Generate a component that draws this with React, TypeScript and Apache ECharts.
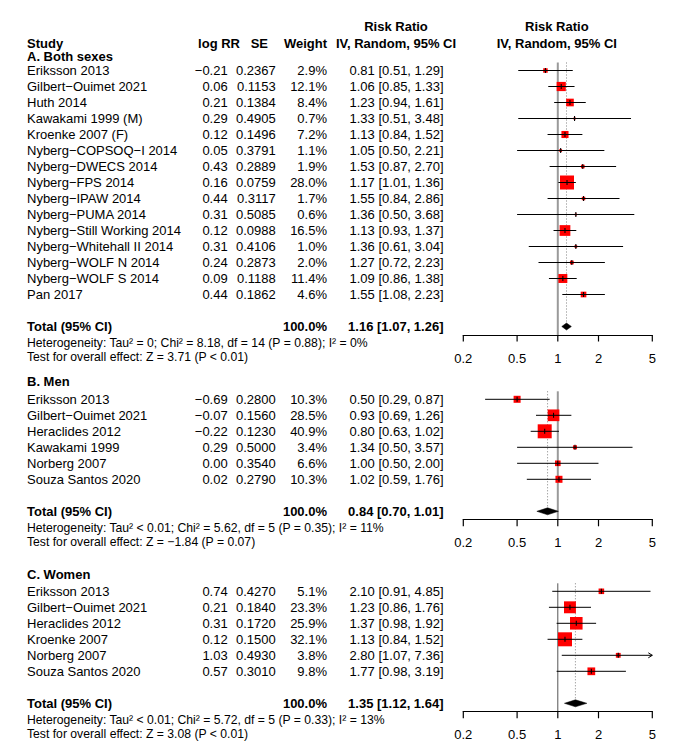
import React, { useEffect, useRef } from "react";
import * as echarts from "echarts";

const FONT = "'Liberation Sans', Arial, Helvetica, sans-serif";

// ---------- A. Both sexes ----------
const studiesA = [
  "Eriksson 2013", "Gilbert−Ouimet 2021", "Huth 2014", "Kawakami 1999 (M)", "Kroenke 2007 (F)",
  "Nyberg−COPSOQ−I 2014", "Nyberg−DWECS 2014", "Nyberg−FPS 2014", "Nyberg−IPAW 2014", "Nyberg−PUMA 2014",
  "Nyberg−Still Working 2014", "Nyberg−Whitehall II 2014", "Nyberg−WOLF N 2014", "Nyberg−WOLF S 2014", "Pan 2017",
];
const logRRA = [-0.21, 0.06, 0.21, 0.29, 0.12, 0.05, 0.43, 0.16, 0.44, 0.31, 0.12, 0.31, 0.24, 0.09, 0.44];
const seA = [0.2367, 0.1153, 0.1384, 0.4905, 0.1496, 0.3791, 0.2889, 0.0759, 0.3117, 0.5085, 0.0988, 0.4106, 0.2873, 0.1188, 0.1862];
const weightA = [2.9, 12.1, 8.4, 0.7, 7.2, 1.1, 1.9, 28.0, 1.7, 0.6, 16.5, 1.0, 2.0, 11.4, 4.6];
const rrA = [0.81, 1.06, 1.23, 1.33, 1.13, 1.05, 1.53, 1.17, 1.55, 1.36, 1.13, 1.36, 1.27, 1.09, 1.55];
const lowA = [0.51, 0.85, 0.94, 0.51, 0.84, 0.5, 0.87, 1.01, 0.84, 0.5, 0.93, 0.61, 0.72, 0.86, 1.08];
const upA = [1.29, 1.33, 1.61, 3.48, 1.52, 2.21, 2.7, 1.36, 2.86, 3.68, 1.37, 3.04, 2.23, 1.38, 2.23];
const totalA = [1.16, 1.07, 1.26];
const hetA = "Heterogeneity: Tau² = 0; Chi² = 8.18, df = 14 (P = 0.88); I² = 0%";
const testA = "Test for overall effect: Z = 3.71 (P < 0.01)";

// ---------- B. Men ----------
const studiesB = ["Eriksson 2013", "Gilbert−Ouimet 2021", "Heraclides 2012", "Kawakami 1999", "Norberg 2007", "Souza Santos 2020"];
const logRRB = [-0.69, -0.07, -0.22, 0.29, 0.0, 0.02];
const seB = [0.28, 0.156, 0.123, 0.5, 0.354, 0.279];
const weightB = [10.3, 28.5, 40.9, 3.4, 6.6, 10.3];
const rrB = [0.5, 0.93, 0.8, 1.34, 1.0, 1.02];
const lowB = [0.29, 0.69, 0.63, 0.5, 0.5, 0.59];
const upB = [0.87, 1.26, 1.02, 3.57, 2.0, 1.76];
const totalB = [0.84, 0.7, 1.01];
const hetB = "Heterogeneity: Tau² < 0.01; Chi² = 5.62, df = 5 (P = 0.35); I² = 11%";
const testB = "Test for overall effect: Z = −1.84 (P = 0.07)";

// ---------- C. Women ----------
const studiesC = ["Eriksson 2013", "Gilbert−Ouimet 2021", "Heraclides 2012", "Kroenke 2007", "Norberg 2007", "Souza Santos 2020"];
const logRRC = [0.74, 0.21, 0.31, 0.12, 1.03, 0.57];
const seC = [0.427, 0.184, 0.172, 0.15, 0.493, 0.301];
const weightC = [5.1, 23.3, 25.9, 32.1, 3.8, 9.8];
const rrC = [2.1, 1.23, 1.37, 1.13, 2.8, 1.77];
const lowC = [0.91, 0.86, 0.98, 0.84, 1.07, 0.98];
const upC = [4.85, 1.76, 1.92, 1.52, 7.36, 3.19];
const totalC = [1.35, 1.12, 1.64];
const hetC = "Heterogeneity: Tau² < 0.01; Chi² = 5.72, df = 5 (P = 0.33); I² = 13%";
const testC = "Test for overall effect: Z = 3.08 (P < 0.01)";

// ---------- axis ----------
const tickLabels = [0.2, 0.5, 1, 2, 5];
const X_MIN = 0.2;
const X_MAX = 5;

const headers = {
  study: "Study",
  logRR: "log RR",
  se: "SE",
  weight: "Weight",
  rr1: "Risk Ratio",
  rr2: "IV, Random, 95% CI",
  total: "Total (95% CI)",
  totalWeight: "100.0%",
};

const L = Math.log10;
const fmt = (v: number, d: number) => v.toFixed(d).replace("-", "−");

const panels = [
  { title: "A. Both sexes", studies: studiesA, logRR: logRRA, se: seA, weight: weightA, rr: rrA, low: lowA, up: upA, total: totalA, het: hetA, test: testA, gridTop: 62.5, titleY: 56.6, refColor: "#9a9a9a", refWidth: 2 },
  { title: "B. Men", studies: studiesB, logRR: logRRB, se: seB, weight: weightB, rr: rrB, low: lowB, up: upB, total: totalB, het: hetB, test: testB, gridTop: 391.3, titleY: 381.7, refColor: "#9a9a9a", refWidth: 2 },
  { title: "C. Women", studies: studiesC, logRR: logRRC, se: seC, weight: weightC, rr: rrC, low: lowC, up: upC, total: totalC, het: hetC, test: testC, gridTop: 583.3, titleY: 574, refColor: "#555555", refWidth: 1 },
];

const ROW = 16;
const TICK = 7;
const GRID_LEFT = 463.3;
const GRID_W = 189;
const COL = { name: 27, logRR: 227.7, se: 275.7, weight: 327, rr: 443.5 };

function txt(text: string, x: number, y: number, align: string, size = 13, bold = false) {
  return {
    type: "text",
    x,
    y,
    silent: true,
    style: { text, x: 0, y: 0, align, verticalAlign: "middle", lineHeight: size, fill: "#000", fontSize: size, fontFamily: FONT, fontWeight: bold ? "bold" : "normal" },
  };
}

function buildOption() {
  const grid: any[] = [];
  const xAxis: any[] = [];
  const yAxis: any[] = [];
  const series: any[] = [];
  const graphic: any[] = [];

  graphic.push(txt(headers.study, COL.name, 43, "left", 13, true));
  graphic.push(txt(headers.logRR, 240, 43, "right", 13, true));
  graphic.push(txt(headers.se, 268, 43, "right", 13, true));
  graphic.push(txt(headers.weight, COL.weight, 43, "right", 13, true));
  graphic.push(txt(headers.rr1, 396, 26.7, "center", 13, true));
  graphic.push(txt(headers.rr2, 396, 43, "center", 13, true));
  graphic.push(txt(headers.rr1, GRID_LEFT + GRID_W / 2 - 1, 26.7, "center", 13, true));
  graphic.push(txt(headers.rr2, GRID_LEFT + GRID_W / 2 - 1, 43, "center", 13, true));

  panels.forEach((p, gi) => {
    const n = p.studies.length;
    const totalRow = n + 1;
    const yAxisRow = n + 1.5; // row position of the drawn axis line
    const yEnd = yAxisRow + TICK / ROW; // grid bottom = tick ends
    const axisY = p.gridTop + (n + 2) * ROW;
    const height = (n + 2) * ROW + TICK;
    grid.push({ left: GRID_LEFT, top: p.gridTop, width: GRID_W, height });
    const ticks = tickLabels.map((t) => L(t));
    xAxis.push({
      gridIndex: gi,
      type: "value",
      min: L(X_MIN),
      max: L(X_MAX),
      axisLine: { show: false },
      axisTick: { show: false },
      axisLabel: {
        show: true,
        customValues: ticks,
        margin: 10,
        color: "#000",
        fontSize: 13,
        fontFamily: FONT,
        formatter: (v: number) => String(parseFloat(Math.pow(10, v).toPrecision(3))),
      },
      splitLine: { show: false },
    });
    yAxis.push({ gridIndex: gi, type: "value", inverse: true, min: -0.5, max: yEnd, show: false });

    graphic.push(txt(p.title, COL.name, p.titleY, "left", 13, true));
    graphic.push(txt(p.het, COL.name, axisY + 8.5, "left", 12.2));
    graphic.push(txt(p.test, COL.name, axisY + 22.5, "left", 12.2));

    const wmax = Math.max(...p.weight);

    // axis line with tick marks, and the reference line at RR = 1
    series.push({
      type: "custom",
      xAxisIndex: gi,
      yAxisIndex: gi,
      z: 1,
      silent: true,
      clip: false,
      data: [[0, -0.5, yAxisRow]],
      renderItem: (_params: any, api: any) => {
        const a = api.coord([api.value(0), api.value(1)]);
        const b = api.coord([api.value(0), api.value(2)]);
        const l = api.coord([L(X_MIN), api.value(2)]);
        const r = api.coord([L(X_MAX), api.value(2)]);
        const e = api.coord([0, yEnd]);
        const ay = Math.round(b[1]) + 0.5;
        const children: any[] = [
          { type: "line", shape: { x1: a[0], y1: a[1], x2: b[0], y2: ay }, style: { stroke: p.refColor, lineWidth: p.refWidth } },
          { type: "line", shape: { x1: l[0] - 0.6, y1: ay, x2: r[0] + 0.6, y2: ay }, style: { stroke: "#000", lineWidth: 1.2 } },
        ];
        ticks.forEach((t) => {
          const q = api.coord([t, api.value(2)]);
          children.push({ type: "line", shape: { x1: q[0], y1: ay, x2: q[0], y2: e[1] }, style: { stroke: "#000", lineWidth: 1.2 } });
        });
        return { type: "group", children };
      },
    });

    // pooled estimate: dotted line + diamond
    series.push({
      type: "custom",
      xAxisIndex: gi,
      yAxisIndex: gi,
      z: 2,
      silent: true,
      data: [[L(p.total[0]), L(p.total[1]), L(p.total[2]), totalRow]],
      renderItem: (_params: any, api: any) => {
        const c = api.coord([api.value(0), api.value(3)]);
        const top = api.coord([api.value(0), -0.5]);
        const lo = api.coord([api.value(1), api.value(3)]);
        const hi = api.coord([api.value(2), api.value(3)]);
        const h = 3.5;
        return {
          type: "group",
          children: [
            { type: "line", shape: { x1: c[0], y1: top[1], x2: c[0], y2: c[1] - h }, style: { stroke: "#808080", lineWidth: 1, lineDash: [1, 2] } },
            { type: "polygon", shape: { points: [[lo[0], c[1]], [c[0], c[1] - h], [hi[0], c[1]], [c[0], c[1] + h]] }, style: { fill: "#000", stroke: "#000", lineWidth: 0.5 } },
          ],
        };
      },
    });

    // individual studies
    series.push({
      type: "custom",
      xAxisIndex: gi,
      yAxisIndex: gi,
      z: 3,
      silent: true,
      data: p.rr.map((r, i) => [L(r), L(p.low[i]), L(p.up[i]), i, 14 * Math.sqrt(p.weight[i] / wmax)]),
      renderItem: (_params: any, api: any) => {
        const row = api.value(3);
        const xmin = L(X_MIN);
        const xmax = L(X_MAX);
        const c = api.coord([api.value(0), row]);
        const loV = api.value(1);
        const hiV = api.value(2);
        const lo = api.coord([Math.max(loV, xmin), row]);
        const hi = api.coord([Math.min(hiV, xmax), row]);
        const s = api.value(4);
        const children: any[] = [
          { type: "rect", shape: { x: c[0] - s / 2, y: c[1] - s / 2, width: s, height: s }, style: { fill: "#ff0000" } },
          { type: "line", shape: { x1: lo[0], y1: c[1], x2: hi[0], y2: c[1] }, style: { stroke: "#000", lineWidth: 1 } },
          { type: "line", shape: { x1: c[0], y1: c[1] - 2.5, x2: c[0], y2: c[1] + 2.5 }, style: { stroke: "#000", lineWidth: 1.1 } },
        ];
        if (hiV > xmax) {
          children.push({ type: "polyline", shape: { points: [[hi[0] - 4, c[1] - 2.5], [hi[0], c[1]], [hi[0] - 4, c[1] + 2.5]] }, style: { stroke: "#000", lineWidth: 1, fill: null } });
        }
        if (loV < xmin) {
          children.push({ type: "polyline", shape: { points: [[lo[0] + 4, c[1] - 2.5], [lo[0], c[1]], [lo[0] + 4, c[1] + 2.5]] }, style: { stroke: "#000", lineWidth: 1, fill: null } });
        }
        return { type: "group", children };
      },
    });

    // table text
    series.push({
      type: "custom",
      xAxisIndex: gi,
      yAxisIndex: gi,
      z: 4,
      silent: true,
      clip: false,
      data: [...p.studies.map((_, i) => [0, i]), [0, totalRow]],
      renderItem: (params: any, api: any) => {
        const i = params.dataIndex;
        const y = api.coord([0, api.value(1)])[1];
        if (i === n) {
          return {
            type: "group",
            children: [
              txt(headers.total, COL.name, y, "left", 13, true),
              txt(headers.totalWeight, COL.weight, y, "right", 13, true),
              txt(`${p.total[0].toFixed(2)} [${p.total[1].toFixed(2)}, ${p.total[2].toFixed(2)}]`, COL.rr, y, "right", 13, true),
            ],
          };
        }
        return {
          type: "group",
          children: [
            txt(p.studies[i], COL.name, y, "left"),
            txt(fmt(p.logRR[i], 2), COL.logRR, y, "right"),
            txt(p.se[i].toFixed(4), COL.se, y, "right"),
            txt(`${p.weight[i].toFixed(1)}%`, COL.weight, y, "right"),
            txt(`${p.rr[i].toFixed(2)} [${p.low[i].toFixed(2)}, ${p.up[i].toFixed(2)}]`, COL.rr, y, "right"),
          ],
        };
      },
    });
  });

  return { animation: false, backgroundColor: "#fff", grid, xAxis, yAxis, series, graphic };
}

export default function App() {
  const ref = useRef<HTMLDivElement>(null);
  useEffect(() => {
    const chart = echarts.init(ref.current!, null, { renderer: "svg" });
    chart.setOption(buildOption() as any);
    return () => chart.dispose();
  }, []);
  return <div ref={ref} style={{ position: "fixed", left: 0, top: 0, width: 680, height: 748, background: "#fff" }} />;
}
